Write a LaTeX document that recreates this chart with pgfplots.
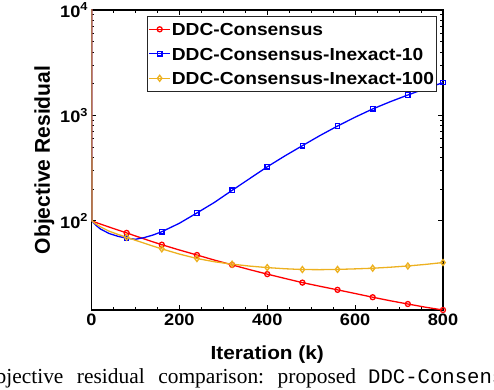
\documentclass[border=0pt]{standalone}
\usepackage{fontspec}
\setmainfont{Liberation Sans}[FakeStretch=1.1]
\newfontfamily\capserif{Liberation Serif}
\newfontfamily\capmono{Liberation Mono}
\usepackage{graphicx}
\usepackage{pgfplots}
\usepackage{pgfplotstable}
\pgfplotsset{compat=1.18}
\definecolor{mred}{rgb}{1,0,0}
\definecolor{mblue}{rgb}{0,0,1}
\definecolor{myellow}{rgb}{0.929,0.694,0.125}
\definecolor{legedge}{gray}{0.15}

% objective residual per iteration (markers every 80 iterations)
\pgfplotstableread{
it   red     blue    yellow
0    100000  100000  100000
1    100     100     100
10   96.7    91      93.5
20   93.5    84      88
40   87.5    76      80
60   82      71.5    74.5
80   77      68.5    70
100  72      67      65.5
120  67.5    69.5    61.5
140  63.3    73.5    57.7
160  59.5    79      54.3
200  53      95      48.5
240  47.5    119     44
280  42.5    150     41
320  38.3    195     38.9
360  34.5    252     37.3
400  31.3    326     36.1
440  28.5    413     35.2
480  26      517     34.6
520  24      645     34.5
560  22.2    794     34.7
600  20.5    963     35.1
640  18.9    1153    35.6
680  17.5    1350    36.4
720  16.3    1563    37.4
760  15.2    1797    38.7
800  14.3    2047    40.3
}\resid

\begin{document}
\begin{tikzpicture}
\begin{axis}[
  scale only axis, width=351.5bp, height=300bp,
  xmin=0, xmax=800,
  ymode=log, ymin=14.3, ymax=10000,
  xtick={0,200,400,600,800}, minor x tick num=3,
  ytick={100,1000,10000},
  yticklabels={10\textsuperscript{2},10\textsuperscript{3},10\textsuperscript{4}},
  tick align=inside,
  major tick length=5bp, minor tick length=3bp,
  axis line style={line width=1.2bp},
  every tick/.style={black, line width=0.9bp},
  tick label style={font=\bfseries\fontsize{16.6}{16.6}\selectfont},
  xticklabel style={/pgf/number format/assume math mode=true},
  xlabel={Iteration (k)},
  ylabel={\scalebox{1}[1.12]{Objective Residual}},
  xlabel style={font=\bfseries\fontsize{19}{19}\selectfont,
    at={(axis description cs:0.5,-0.15)}, anchor=center},
  ylabel style={font=\bfseries\fontsize{19.2}{19.2}\selectfont,
    at={(axis description cs:-0.134,0.5)}, anchor=center},
  legend cell align=left,
  legend style={at={(axis description cs:0.983,0.98)}, anchor=north east,
    draw=legedge, line width=1bp, inner xsep=1.5bp, inner ysep=4.5bp,
    row sep=7.9bp,
    nodes={inner xsep=1bp, inner ysep=2bp, text height=12.6bp, text depth=0bp},
    font=\bfseries\fontsize{17.5}{17.5}\selectfont},
  legend image code/.code={\draw[mark indices={2}] plot coordinates {(0bp,0bp) (10.5bp,0bp) (21bp,0bp)};},
  every axis plot/.append style={line width=1.3bp},
]
\addplot[color=mred, mark=o, mark size=2.5bp, mark options={solid, line width=1.3bp},
  mark indices={6,10,12,14,16,18,20,22,24,26}] table[x=it, y=red] {\resid};
\addlegendentry{DDC-Consensus}
\addplot[color=mblue, mark=square, mark size=2.2bp, mark options={solid, line width=1.3bp},
  mark indices={6,10,12,14,16,18,20,22,24,26}] table[x=it, y=blue] {\resid};
\addlegendentry{DDC-Consensus-Inexact-10}
\addplot[color=myellow, mark=diamond, mark size=3bp, mark options={solid, line width=1.3bp},
  mark indices={6,10,12,14,16,18,20,22,24,26}] table[x=it, y=yellow] {\resid};
\addlegendentry{DDC-Consensus-Inexact-100}
\end{axis}
\node[anchor=base west, inner sep=0, font=\capserif\fontsize{21.5}{21.5}\selectfont]
  at (-111.5bp,-73bp)
  {Objective\hspace{13.5bp}residual\hspace{13.5bp}comparison:\hspace{13.5bp}proposed\hspace{12bp}{\capmono\fontsize{20.7}{20.7}\selectfont DDC-Consensus}};
\pgfresetboundingbox
\useasboundingbox (-91.5bp,-80bp) rectangle (402.5bp,310bp);
\end{tikzpicture}
\end{document}
